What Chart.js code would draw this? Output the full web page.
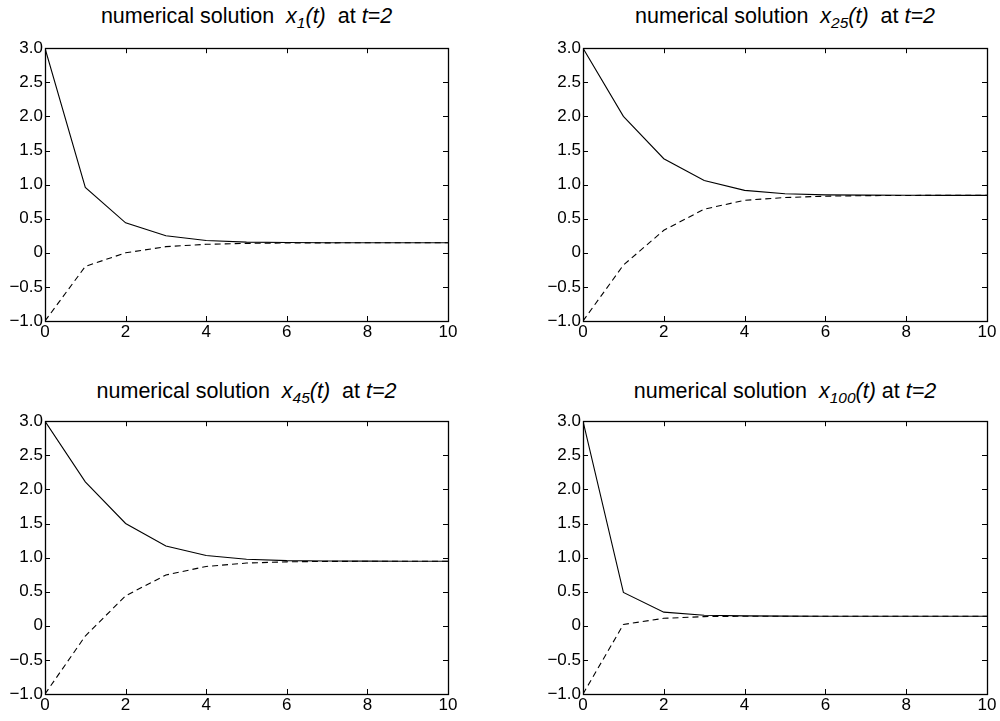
<!DOCTYPE html>
<html>
<head>
<meta charset="utf-8">
<script src="https://cdn.jsdelivr.net/npm/chart.js@4/dist/chart.umd.min.js"></script>
<style>
  html, body { margin: 0; padding: 0; background: #fff; width: 1000px; height: 721px; overflow: hidden; }
  .panel { position: absolute; }
  .title { position: absolute; text-align: center; font-family: "Liberation Sans", Arial, Helvetica, sans-serif; font-size: 21.5px; line-height: 21.5px; color: #000; white-space: pre; }
  .title i { font-style: italic; }
  .sub { position: relative; top: 0.35em; font-size: 0.72em; font-style: italic; }
</style>
</head>
<body>
<script>
// ---- data ----
const tValues = [0, 1, 2, 3, 4, 5, 6, 7, 8, 9, 10];
const xTicks = [0, 2, 4, 6, 8, 10];
const yTicks = [-1.0, -0.5, 0, 0.5, 1.0, 1.5, 2.0, 2.5, 3.0];

const x1Solid  = [3.0, 0.96, 0.44, 0.25, 0.18, 0.157, 0.15, 0.148, 0.147, 0.147, 0.147];
const x1Dashed = [-1.0, -0.20, 0.0, 0.09, 0.125, 0.138, 0.144, 0.146, 0.147, 0.147, 0.147];

const x25Solid  = [3.0, 2.0, 1.38, 1.06, 0.915, 0.865, 0.85, 0.845, 0.843, 0.842, 0.842];
const x25Dashed = [-1.0, -0.18, 0.33, 0.64, 0.77, 0.81, 0.83, 0.838, 0.841, 0.842, 0.842];

const x45Solid  = [3.0, 2.11, 1.50, 1.17, 1.03, 0.975, 0.955, 0.95, 0.948, 0.947, 0.947];
const x45Dashed = [-1.0, -0.15, 0.44, 0.745, 0.87, 0.92, 0.938, 0.944, 0.946, 0.947, 0.947];

const x100Solid  = [3.0, 0.49, 0.20, 0.155, 0.145, 0.142, 0.141, 0.14, 0.14, 0.14, 0.14];
const x100Dashed = [-1.0, 0.02, 0.11, 0.135, 0.14, 0.14, 0.14, 0.14, 0.14, 0.14, 0.14];

const panelTitles = [
  'numerical solution  <i>x</i><span class="sub">1</span><i>(t)</i>  at <i>t=2</i>',
  'numerical solution  <i>x</i><span class="sub">25</span><i>(t)</i>  at <i>t=2</i>',
  'numerical solution  <i>x</i><span class="sub">45</span><i>(t)</i>  at <i>t=2</i>',
  'numerical solution  <i>x</i><span class="sub">100</span><i>(t)</i> at <i>t=2</i>'
];

// ---- layout (plot areas in page pixels) ----
const panels = [
  { L: 45,  R: 448, T: 48,  B: 321, solid: x1Solid,   dashed: x1Dashed,   title: panelTitles[0], titleTop: 6 },
  { L: 583, R: 987, T: 48,  B: 321, solid: x25Solid,  dashed: x25Dashed,  title: panelTitles[1], titleTop: 6 },
  { L: 45,  R: 448, T: 421, B: 694, solid: x45Solid,  dashed: x45Dashed,  title: panelTitles[2], titleTop: 381 },
  { L: 583, R: 987, T: 421, B: 694, solid: x100Solid, dashed: x100Dashed, title: panelTitles[3], titleTop: 381 }
];

const PAD_L = 50, PAD_R = 13, PAD_T = 12, PAD_B = 26;
const FONT = "'Liberation Sans', Arial, Helvetica, sans-serif";

const boxTicks = {
  id: 'boxTicks',
  afterDraw(chart) {
    const ctx = chart.ctx;
    const a = chart.chartArea;
    const xs = chart.scales.x, ys = chart.scales.y;
    const TL = 5;
    ctx.save();
    ctx.strokeStyle = '#000';
    ctx.lineWidth = 1;
    ctx.beginPath();
    xTicks.forEach(v => {
      const px = Math.round(xs.getPixelForValue(v)) + 0.5;
      ctx.moveTo(px, a.bottom); ctx.lineTo(px, a.bottom - TL);
      ctx.moveTo(px, a.top);    ctx.lineTo(px, a.top + TL);
    });
    yTicks.forEach(v => {
      const py = Math.round(ys.getPixelForValue(v)) + 0.5;
      ctx.moveTo(a.left, py);  ctx.lineTo(a.left + TL, py);
      ctx.moveTo(a.right, py); ctx.lineTo(a.right - TL, py);
    });
    ctx.stroke();
    ctx.lineWidth = 1.3;
    ctx.strokeRect(Math.round(a.left) + 0.5, Math.round(a.top) + 0.5,
                   Math.round(a.right - a.left), Math.round(a.bottom - a.top));
    ctx.restore();
  }
};

function fmtY(v) {
  if (Math.abs(v) < 1e-9) return '0';
  const s = Math.abs(v).toFixed(1);
  return (v < 0 ? '\u2212' : '') + s;
}

panels.forEach((p, idx) => {
  const w = (p.R - p.L) + PAD_L + PAD_R;
  const h = (p.B - p.T) + PAD_T + PAD_B;
  const div = document.createElement('div');
  div.className = 'panel';
  div.style.left = (p.L - PAD_L) + 'px';
  div.style.top = (p.T - PAD_T) + 'px';
  div.style.width = w + 'px';
  div.style.height = h + 'px';
  const canvas = document.createElement('canvas');
  canvas.width = w; canvas.height = h;
  canvas.style.width = w + 'px'; canvas.style.height = h + 'px';
  div.appendChild(canvas);
  document.body.appendChild(div);

  const t = document.createElement('div');
  t.className = 'title';
  t.style.left = p.L + 'px';
  t.style.width = (p.R - p.L) + 'px';
  t.style.top = p.titleTop + 'px';
  t.innerHTML = p.title;
  document.body.appendChild(t);

  new Chart(canvas, {
    type: 'line',
    data: {
      datasets: [
        {
          data: tValues.map((tv, i) => ({ x: tv, y: p.solid[i] })),
          borderColor: '#000', borderWidth: 1.1, pointRadius: 0, tension: 0, fill: false
        },
        {
          data: tValues.map((tv, i) => ({ x: tv, y: p.dashed[i] })),
          borderColor: '#000', borderWidth: 1.1, borderDash: [6, 4], pointRadius: 0, tension: 0, fill: false
        }
      ]
    },
    options: {
      responsive: false,
      animation: false,
      events: [],
      layout: { padding: { left: 0, right: PAD_R, top: PAD_T, bottom: 0 } },
      plugins: { legend: { display: false }, tooltip: { enabled: false }, title: { display: false } },
      scales: {
        x: {
          type: 'linear', min: 0, max: 10,
          grid: { display: false, drawTicks: false },
          border: { display: false },
          afterBuildTicks(scale) { scale.ticks = xTicks.map(v => ({ value: v })); },
          afterFit(scale) { scale.height = PAD_B; },
          ticks: { padding: 1, color: '#000', font: { family: FONT, size: 17 }, callback: v => String(v), maxRotation: 0, autoSkip: false }
        },
        y: {
          type: 'linear', min: -1, max: 3,
          grid: { display: false, drawTicks: false },
          border: { display: false },
          afterBuildTicks(scale) { scale.ticks = yTicks.map(v => ({ value: v })); },
          afterFit(scale) { scale.width = PAD_L; },
          ticks: { padding: 2, color: '#000', font: { family: FONT, size: 17 }, callback: v => fmtY(v), autoSkip: false }
        }
      }
    },
    plugins: [boxTicks]
  });
});
</script>
</body>
</html>
